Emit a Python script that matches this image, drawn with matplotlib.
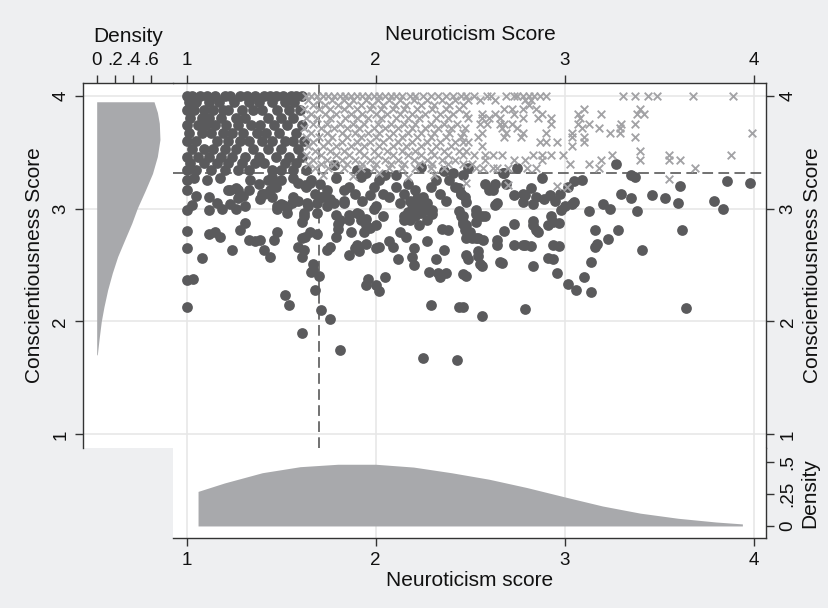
import numpy as np
import matplotlib.pyplot as plt

plt.rcParams['font.family'] = ['Liberation Sans', 'DejaVu Sans']

# ---- data ----
# upper-left block of solid dots: one row per conscientiousness level
blob_levels = [4.00, 3.94, 3.87, 3.80, 3.74, 3.67, 3.60, 3.53, 3.46, 3.40, 3.34]
blob_x = [
    [1.00, 1.03, 1.07, 1.11, 1.15, 1.20, 1.23, 1.28, 1.32, 1.36, 1.41, 1.44, 1.47, 1.51, 1.55, 1.58, 1.61],
    [1.01, 1.05, 1.12, 1.17, 1.25, 1.33, 1.38, 1.45, 1.52, 1.57],
    [1.00, 1.04, 1.09, 1.14, 1.19, 1.22, 1.29, 1.35, 1.40, 1.48, 1.54, 1.60],
    [1.02, 1.08, 1.12, 1.18, 1.26, 1.31, 1.43, 1.50, 1.56],
    [1.00, 1.06, 1.10, 1.15, 1.21, 1.27, 1.34, 1.39, 1.46, 1.53, 1.61],
    [1.01, 1.08, 1.13, 1.19, 1.24, 1.30, 1.37, 1.42, 1.49, 1.58],
    [1.00, 1.05, 1.16, 1.22, 1.28, 1.33, 1.40, 1.45, 1.52, 1.56, 1.62],
    [1.03, 1.09, 1.14, 1.20, 1.26, 1.35, 1.43, 1.50, 1.59],
    [1.00, 1.06, 1.12, 1.18, 1.24, 1.31, 1.38, 1.47, 1.54, 1.61],
    [1.02, 1.09, 1.16, 1.22, 1.29, 1.36, 1.41, 1.52, 1.58],
    [1.00, 1.05, 1.13, 1.20, 1.27, 1.33, 1.45, 1.50, 1.56, 1.63],
]

# dots left of the vertical cut, below the horizontal cut
dots_left = [
    (1.00, 3.25), (1.04, 3.27), (1.11, 3.25), (1.175, 3.27), (1.22, 3.16), (1.26, 3.18),
    (1.335, 3.25), (1.38, 3.22), (1.43, 3.25), (1.45, 3.28), (1.47, 3.19), (1.50, 3.25),
    (1.56, 3.27), (1.59, 3.23), (1.63, 3.19), (1.66, 3.25), (1.68, 3.13), (1.64, 3.02),
    (1.59, 3.07), (1.53, 3.01), (1.50, 3.04), (1.45, 3.10), (1.40, 3.13), (1.33, 3.16),
    (1.30, 3.11), (1.23, 3.04), (1.16, 3.05), (1.12, 3.10), (1.05, 3.11), (1.00, 3.16),
    (1.03, 3.03), (1.12, 2.99), (1.26, 3.00), (1.31, 3.02), (1.48, 3.00), (1.62, 2.93),
    (1.00, 2.99), (1.00, 2.80), (1.00, 2.65), (1.00, 2.37), (1.035, 2.38), (1.00, 2.125),
    (1.08, 2.56), (1.185, 3.00), (1.12, 2.77), (1.15, 2.79), (1.175, 2.75), (1.24, 2.63),
    (1.28, 2.81), (1.31, 2.87), (1.27, 3.09), (1.23, 3.16), (1.27, 3.16), (1.33, 2.72),
    (1.36, 2.71), (1.39, 2.72), (1.41, 2.63), (1.44, 2.57), (1.46, 2.72), (1.48, 2.79),
    (1.39, 3.08), (1.41, 3.13), (1.44, 3.16), (1.46, 3.22), (1.48, 3.02), (1.51, 3.03),
    (1.53, 2.96), (1.555, 3.05), (1.56, 3.10), (1.59, 2.66), (1.61, 2.74), (1.62, 2.63),
    (1.61, 2.57), (1.625, 2.75), (1.65, 2.79), (1.61, 2.88), (1.62, 2.96), (1.635, 3.05),
    (1.625, 3.21), (1.65, 3.23), (1.67, 2.51), (1.67, 2.46), (1.66, 2.44), (1.70, 2.40),
    (1.68, 2.28), (1.71, 2.10), (1.76, 2.02), (1.61, 1.895), (1.52, 2.23), (1.54, 2.15),
    (1.81, 1.75), (1.69, 2.77), (1.69, 2.96), (1.69, 3.05), (1.72, 3.10),
]

# dots in the middle band
dots_mid = [
    (1.74, 2.63), (1.76, 2.66), (1.79, 2.75), (1.80, 2.82), (1.81, 2.90), (1.79, 2.94),
    (1.76, 3.08), (1.78, 3.05), (1.83, 3.05), (1.86, 2.90), (1.87, 2.79), (1.86, 2.59),
    (1.89, 2.65), (1.90, 2.68), (1.91, 2.62), (1.90, 2.96), (1.92, 2.90), (1.95, 2.85),
    (1.94, 2.79), (1.97, 2.83), (1.96, 2.38), (1.95, 2.32), (2.00, 2.32), (2.02, 2.27),
    (2.05, 2.39), (2.00, 2.65), (2.02, 2.66), (2.00, 2.85), (1.99, 3.00), (2.04, 2.93),
    (2.07, 2.71), (2.09, 2.66), (2.12, 2.55), (2.13, 2.79), (2.16, 2.75), (2.15, 2.93),
    (2.18, 2.90), (2.19, 2.99), (2.20, 2.65), (2.19, 2.57), (2.20, 2.50), (2.23, 2.85),
    (2.27, 2.71), (2.28, 2.44), (2.32, 2.55), (2.36, 2.63), (2.33, 2.43), (2.34, 2.39),
    (2.37, 2.43), (2.29, 2.15), (2.25, 1.68), (2.43, 1.66), (2.46, 2.125), (2.56, 2.05),
    (2.48, 2.40), (2.49, 2.55), (2.54, 2.58), (2.56, 2.49), (2.35, 2.82), (2.38, 2.81),
    (2.30, 2.99), (2.27, 2.90), (2.45, 2.93), (2.48, 2.85), (2.50, 2.79), (2.50, 2.75),
    (2.53, 2.74), (2.53, 2.99), (2.57, 2.72), (2.56, 2.93), (2.58, 3.22),
    (1.705, 3.22), (1.74, 3.16), (1.71, 3.10), (1.74, 3.02), (1.79, 3.27), (1.83, 3.16),
    (1.86, 3.19), (1.90, 3.34), (1.92, 3.28), (1.89, 3.13), (1.93, 3.07), (1.97, 3.12),
    (1.99, 3.19), (2.02, 3.25), (2.05, 3.30), (2.04, 3.13), (2.07, 3.10), (2.11, 3.19),
    (2.13, 3.05), (2.15, 3.13), (2.17, 3.22), (2.18, 3.07), (2.21, 3.16), (2.23, 3.02),
    (2.20, 2.98), (2.25, 3.10), (2.24, 2.96), (2.27, 3.05), (2.29, 3.19), (2.32, 3.25),
    (2.30, 2.95), (2.34, 3.13), (2.37, 3.07), (2.39, 3.25), (2.41, 3.31), (2.42, 3.19),
    (2.45, 3.13), (2.47, 3.10), (2.44, 2.98), (2.46, 2.88), (1.86, 2.94), (1.91, 2.95),
    (1.95, 2.91), (2.00, 3.02), (2.15, 2.90), (1.80, 2.86), (1.83, 3.07), (1.95, 2.69),
    (1.78, 3.385), (1.95, 3.31), (2.11, 3.30), (2.24, 3.37), (2.36, 3.33), (2.49, 3.36),
    (2.46, 3.30), (2.19, 3.04), (2.22, 3.09), (2.26, 2.99), (2.21, 2.93), (2.24, 3.06),
    (2.17, 2.97),
]

# dots to the right
dots_right = [
    (2.48, 3.06), (2.45, 3.13), (2.44, 3.18), (2.63, 3.22), (2.60, 3.16), (2.62, 3.16),
    (2.69, 3.22), (2.675, 3.31), (2.73, 3.12), (2.78, 3.13), (2.79, 3.12), (2.82, 3.18),
    (2.88, 3.27), (2.85, 3.10), (2.89, 3.08), (2.92, 3.12), (2.95, 3.07), (2.975, 3.13),
    (3.02, 3.19), (3.05, 3.245), (3.09, 3.25), (3.05, 3.06), (3.04, 3.04), (3.00, 3.02),
    (2.78, 3.06), (2.83, 3.04), (2.63, 3.03), (2.64, 3.05), (2.46, 2.93), (2.53, 2.95),
    (2.53, 2.88), (2.58, 2.93), (2.46, 2.86), (2.47, 2.81), (2.49, 2.78), (2.48, 2.74),
    (2.51, 2.74), (2.54, 2.74), (2.64, 2.72), (2.64, 2.68), (2.68, 2.80), (2.73, 2.86),
    (2.73, 2.68), (2.78, 2.68), (2.79, 2.68), (2.82, 2.67), (2.83, 2.89), (2.83, 2.85),
    (2.85, 2.81), (2.86, 2.79), (2.91, 2.85), (2.93, 2.93), (2.94, 2.88), (2.97, 2.87),
    (2.94, 2.68), (2.97, 2.67), (2.98, 2.99), (2.48, 2.59), (2.54, 2.62), (2.55, 2.51),
    (2.46, 2.42), (2.66, 2.53), (2.67, 2.52), (2.83, 2.49), (2.91, 2.56), (2.94, 2.55),
    (2.96, 2.43), (3.02, 2.33), (3.06, 2.28), (3.10, 2.39), (3.14, 2.26), (3.14, 2.53),
    (3.16, 2.66), (3.17, 2.69), (3.16, 2.81), (3.23, 2.73), (3.28, 2.81), (3.13, 2.98),
    (3.20, 3.04), (3.24, 3.00), (3.30, 3.13), (3.35, 3.09), (3.38, 2.98), (3.35, 3.30),
    (3.37, 3.28), (3.46, 3.12), (3.41, 2.63), (3.53, 3.09), (3.60, 3.05), (3.61, 3.20),
    (3.62, 2.81), (3.64, 2.12), (3.79, 3.07), (3.84, 3.00), (3.86, 3.24), (3.98, 3.23),
    (2.79, 2.11), (2.44, 2.125), (2.68, 3.31), (2.75, 3.36), (3.27, 3.39),
]

# crosses (high on both scores): one row per conscientiousness level
cross_levels = [4.00, 3.96, 3.92, 3.88, 3.84, 3.80, 3.75, 3.71, 3.67, 3.63,
                3.59, 3.55, 3.51, 3.47, 3.43, 3.39, 3.36]
cross_x = [
    [1.63, 1.66, 1.69, 1.72, 1.75, 1.78, 1.81, 1.84, 1.87, 1.90, 1.93, 1.96, 1.99, 2.02, 2.05,
     2.08, 2.11, 2.14, 2.18, 2.21, 2.25, 2.29, 2.33, 2.37, 2.41, 2.45, 2.48, 2.52, 2.59, 2.61,
     2.69, 2.73, 2.75, 2.78, 2.81, 2.84, 2.87, 2.90, 3.31, 3.37, 3.44, 3.49, 3.68, 3.89],
    [1.64, 1.70, 1.77, 1.83, 1.88, 1.95, 2.01, 2.07, 2.13, 2.20, 2.27, 2.35, 2.42, 2.49, 2.55,
     2.63, 2.79, 2.82],
    [1.67, 1.73, 1.80, 1.86, 1.92, 1.98, 2.04, 2.10, 2.16, 2.24, 2.31, 2.39, 2.46, 2.81],
    [1.62, 1.70, 1.76, 1.83, 1.90, 1.97, 2.03, 2.09, 2.15, 2.22, 2.30, 2.37, 2.44, 2.68, 2.72,
     2.78, 2.85, 3.10, 3.40],
    [1.66, 1.73, 1.79, 1.87, 1.93, 2.00, 2.06, 2.13, 2.19, 2.26, 2.34, 2.41, 2.48, 2.56, 2.63,
     2.73, 2.88, 3.07, 3.19, 3.38, 3.42],
    [1.63, 1.69, 1.76, 1.84, 1.90, 1.96, 2.03, 2.11, 2.17, 2.23, 2.32, 2.38, 2.49, 2.56, 2.60,
     2.66, 2.78, 2.86, 2.93, 3.08],
    [1.67, 1.74, 1.81, 1.88, 1.94, 2.01, 2.08, 2.15, 2.21, 2.29, 2.36, 2.43, 2.55, 2.59, 2.66,
     2.68, 2.72, 2.93, 3.07, 3.13, 3.30, 3.37],
    [1.62, 1.71, 1.78, 1.85, 1.91, 1.99, 2.05, 2.12, 2.19, 2.26, 2.33, 2.40, 2.47, 2.67, 2.75,
     3.09, 3.18, 3.29],
    [1.66, 1.74, 1.82, 1.89, 1.96, 2.02, 2.09, 2.17, 2.24, 2.31, 2.39, 2.46, 2.56, 2.69, 2.78,
     2.90, 3.04, 3.24, 3.29, 3.99],
    [1.63, 1.70, 1.77, 1.85, 1.92, 2.00, 2.07, 2.14, 2.22, 2.29, 2.37, 2.45, 2.54, 2.68, 2.77,
     3.04, 3.10, 3.37],
    [1.67, 1.75, 1.82, 1.90, 1.97, 2.04, 2.12, 2.19, 2.27, 2.34, 2.42, 2.46, 2.49, 2.87, 2.90,
     2.96, 3.10],
    [1.64, 1.72, 1.79, 1.87, 1.94, 2.02, 2.09, 2.16, 2.24, 2.32, 2.40, 2.56, 3.04],
    [1.68, 1.76, 1.83, 1.91, 1.99, 2.06, 2.14, 2.21, 2.29, 2.36, 2.44, 2.48, 3.40],
    [1.63, 1.71, 1.79, 1.86, 1.94, 2.01, 2.09, 2.17, 2.24, 2.31, 2.38, 2.46, 2.52, 2.58, 2.62,
     2.67, 2.83, 2.88, 2.93, 2.99, 3.25, 3.55, 3.88],
    [1.67, 1.74, 1.82, 1.89, 1.97, 2.05, 2.12, 2.20, 2.27, 2.35, 2.42, 2.58, 2.73, 2.79, 2.88,
     3.19, 3.40, 3.55, 3.61],
    [1.64, 1.71, 1.78, 1.85, 1.93, 2.00, 2.08, 2.15, 2.23, 2.30, 2.38, 2.46, 2.51, 3.03, 3.13],
    [1.68, 1.75, 1.83, 1.92, 1.99, 2.07, 2.14, 2.21, 2.29, 2.36, 2.53, 2.57, 2.62, 2.64, 2.70,
     2.80, 2.85, 3.18, 3.69],
]
# a few crosses that fall just under the horizontal cut
cross_extra = [(1.72, 3.30), (1.88, 3.29), (2.02, 3.31), (2.17, 3.28), (2.31, 3.30),
               (2.48, 3.23), (2.70, 3.21), (2.96, 3.20), (3.01, 3.19), (3.55, 3.26)]

cut_neur = 1.70
cut_consc = 3.317

# marginal densities
consc_grid = [3.945, 3.85, 3.754, 3.61, 3.46, 3.31, 3.16, 3.0, 2.87, 2.72, 2.574,
              2.43, 2.28, 2.13, 2.0, 1.84, 1.705]
consc_dens = [0.637, 0.675, 0.696, 0.703, 0.674, 0.62, 0.54, 0.45, 0.39, 0.31, 0.233,
              0.174, 0.122, 0.081, 0.051, 0.026, 0.007]
neur_grid = [1.06, 1.2, 1.4, 1.6, 1.8, 2.0, 2.2, 2.4, 2.6, 2.8, 3.0, 3.2, 3.4, 3.6, 3.8, 3.94]
neur_dens = [0.27, 0.336, 0.416, 0.463, 0.482, 0.482, 0.46, 0.416, 0.365, 0.30, 0.227,
             0.156, 0.10, 0.06, 0.031, 0.016]

# ---- style ----
BG = '#eeeff1'
DOT = '#5a5a5c'
CROSS = '#a2a2a5'
FILL = '#a8a9ac'
GRID = '#e7e7e7'
SPINE = '#333333'
DASH = '#4a4a4a'

W, H = 829, 608
fig = plt.figure(figsize=(W / 100, H / 100), dpi=100, facecolor=BG)


def box(x0, y0, x1, y1):
    return [x0 / W, 1 - y1 / H, (x1 - x0) / W, (y1 - y0) / H]


def ftext(x, y, s, **kw):
    fig.text(x / W, 1 - y / H, s, ha='center', va='center', fontsize=15, color='#111111', **kw)


ax = fig.add_axes(box(173, 83, 766, 448))
axl = fig.add_axes(box(83, 83, 173, 448))
axb = fig.add_axes(box(173, 448, 766, 538))

xr = (0.9275, 4.065)
yr = (0.880, 4.111)

# main scatter
dots = [(x, y) for y, row in zip(blob_levels, blob_x) for x in row] + dots_left + dots_mid + dots_right
crosses = [(x, y) for y, row in zip(cross_levels, cross_x) for x in row] + cross_extra
dx, dy = zip(*dots)
kx, ky = zip(*crosses)
ax.axhline(cut_consc, color=DASH, lw=1.1, ls=(0, (7, 3.5)), zorder=2)
ax.axvline(cut_neur, color=DASH, lw=1.1, ls=(0, (7, 3.5)), zorder=2)
ax.scatter(dx, dy, s=60, c=DOT, lw=0, zorder=3)
ax.scatter(kx, ky, s=30, c=CROSS, marker='x', lw=1.35, zorder=4)
ax.set_xlim(*xr)
ax.set_ylim(*yr)
ax.xaxis.tick_top()
ax.yaxis.tick_right()
ax.set_xticks([1, 2, 3, 4])
ax.set_yticks([1, 2, 3, 4])
ax.grid(True, color=GRID, lw=1.2)
ax.set_axisbelow(True)

# left density
axl.fill_betweenx(consc_grid, 0, consc_dens, color=FILL, lw=0, zorder=2)
axl.set_xlim(-0.152, 0.848)
axl.set_ylim(*yr)
axl.xaxis.tick_top()
axl.set_xticks([0, 0.2, 0.4, 0.6])
axl.set_xticklabels(['0', '.2', '.4', '.6'])
axl.set_yticks([1, 2, 3, 4])
axl.grid(True, axis='y', color=GRID, lw=1.2)
axl.set_axisbelow(True)

# bottom density
axb.fill_between(neur_grid, 0, neur_dens, color=FILL, lw=0, zorder=2)
axb.set_xlim(*xr)
axb.set_ylim(-0.094, 0.609)
axb.yaxis.tick_right()
axb.set_xticks([1, 2, 3, 4])
axb.set_yticks([0, 0.25, 0.5])
axb.set_yticklabels(['0', '.25', '.5'])
axb.grid(True, axis='x', color=GRID, lw=1.2)
axb.set_axisbelow(True)

hide = {ax: ['left', 'bottom'], axl: ['right', 'bottom'], axb: ['left', 'top']}
for a, sides in hide.items():
    a.set_facecolor('white')
    for s in sides:
        a.spines[s].set_visible(False)
    for s in a.spines.values():
        s.set_color(SPINE)
        s.set_linewidth(1.0)
    a.tick_params(length=5.8, width=1.0, color=SPINE, labelsize=13.5, pad=4, labelcolor='#111111')
    a.tick_params(axis='y', labelrotation=90)
    for lab in a.get_yticklabels():
        lab.set_va('center')

ftext(470, 34, 'Neuroticism Score')
ftext(128, 36, 'Density')
ftext(35, 265, 'Conscientiousness Score', rotation=90)
ftext(813, 265, 'Conscientiousness Score', rotation=90)
ftext(470, 580, 'Neuroticism score')
ftext(810, 493, 'Density', rotation=90)

fig.savefig('out.png', dpi=100, facecolor=BG)
